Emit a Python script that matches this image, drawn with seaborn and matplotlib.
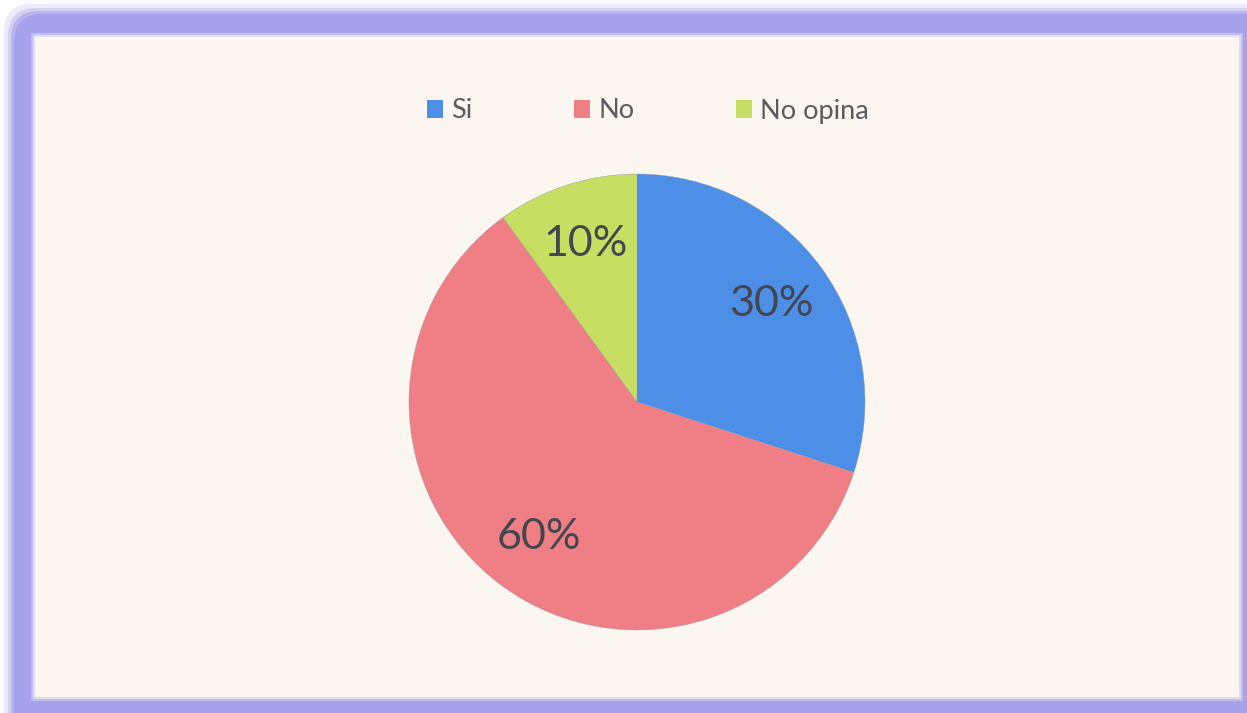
import matplotlib
matplotlib.use("Agg")
import matplotlib.pyplot as plt
from matplotlib.patches import FancyBboxPatch, Rectangle
import seaborn as sns

# Survey answers and their shares (%)
categories = ["Si", "No", "No opina"]
shares = [30, 60, 10]
slice_colors = ["#4d8fe6", "#f07e85", "#c6de62"]

sns.set_theme(style="white")
plt.rcParams["font.family"] = ["Lato", "DejaVu Sans"]
palette = sns.color_palette(slice_colors)

W, H = 1247, 713
fig = plt.figure(figsize=(W / 100, H / 100), dpi=100)
fig.patch.set_facecolor("#fdfcff")


def px_box(x0, y0, x1, y1):
    """Convert a pixel box (top-left origin) to figure fractions."""
    return x0 / W, 1 - y1 / H, (x1 - x0) / W, (y1 - y0) / H


# Soft purple frame, drawn as a few stacked rounded boxes for a glow edge
bg = fig.add_axes([0, 0, 1, 1])
bg.set_xlim(0, W)
bg.set_ylim(H, 0)
bg.axis("off")
for pad, alpha in [(10, 0.18), (6, 0.35), (3, 0.6), (0, 1.0)]:
    bg.add_patch(FancyBboxPatch((14 - pad, 14 - pad), W + 40 + 2 * pad, H + 40 + 2 * pad,
                                boxstyle="round,pad=0,rounding_size=28",
                                facecolor="#a8a2ec", edgecolor="none", alpha=alpha))
for pad, alpha in [(4, 0.35), (2, 0.6), (0, 1.0)]:
    bg.add_patch(Rectangle((35 - pad, 37 - pad), 1204 + 2 * pad, 660 + 2 * pad,
                           facecolor="#f6f0f4" if pad else "#fbf6ef",
                           edgecolor="none", alpha=alpha))

# Pie chart
cx, cy, r = 637, 402, 228
ax = fig.add_axes(px_box(cx - r, cy - r, cx + r, cy + r))
ax.set_facecolor("none")
wedges, texts, autotexts = ax.pie(
    shares,
    colors=palette,
    startangle=90,
    counterclock=False,
    autopct="%1.0f%%",
    pctdistance=0.73,
    radius=1.0,
    wedgeprops=dict(edgecolor="#9a9aaa", linewidth=0.3),
    textprops=dict(fontsize=31, color="#44464f"),
)
ax.set_xlim(-1, 1)
ax.set_ylim(-1, 1)
ax.set_aspect("equal")
ax.axis("off")

# Legend across the top
leg = fig.legend(
    wedges, categories,
    loc="center", bbox_to_anchor=(648 / W, 1 - 111 / H),
    ncol=3, frameon=False,
    fontsize=19.5, labelcolor="#5a5a62",
    handlelength=0.6, handleheight=0.6, handletextpad=0.3,
    columnspacing=3.75,
)
for h in leg.legend_handles:
    h.set_edgecolor("none")

fig.savefig("out.png", dpi=100, facecolor=fig.get_facecolor())
